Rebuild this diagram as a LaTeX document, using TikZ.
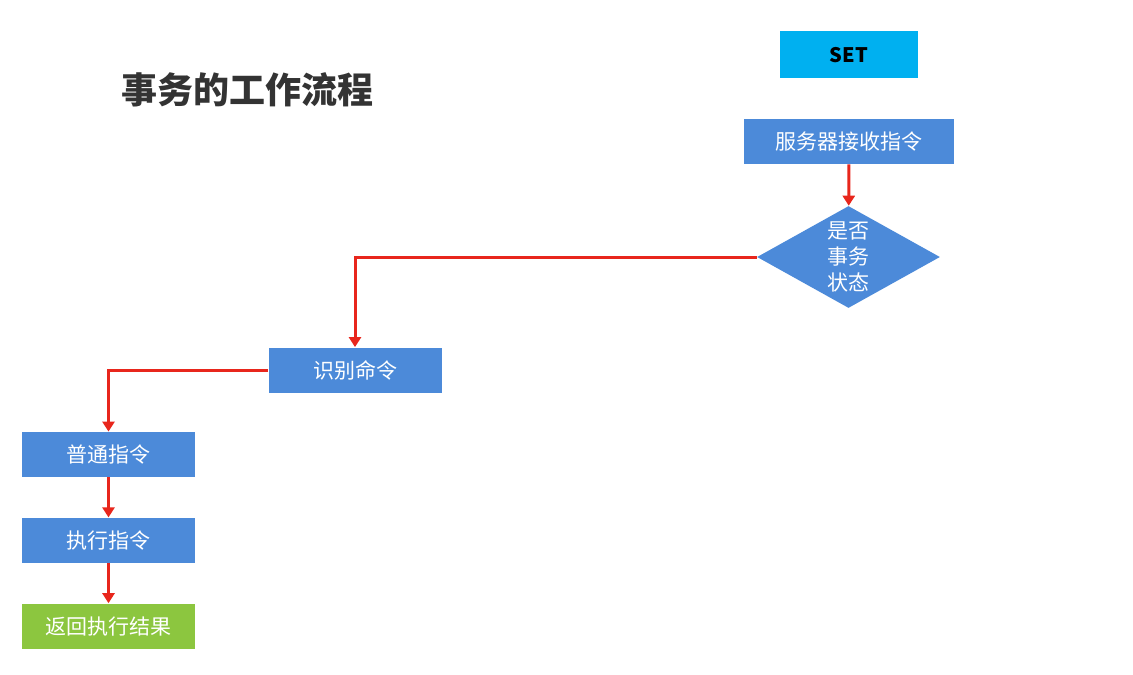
\documentclass[tikz,border=0pt]{standalone}
\usepackage{fontspec}
\setmainfont{Noto Sans CJK SC}
\usetikzlibrary{arrows.meta,positioning,shapes.geometric}
\definecolor{boxblue}{HTML}{4C8AD9}
\definecolor{setcyan}{HTML}{00B0F0}
\definecolor{okgreen}{HTML}{8CC63F}
\definecolor{linered}{HTML}{E8261C}
\definecolor{titlegray}{HTML}{333333}

\begin{document}
\begin{tikzpicture}[
  x=0.5pt, y=-0.5pt,
  node distance=20pt and 20pt,
  box/.style={fill=boxblue, text=white, align=center, minimum height=22.5pt, minimum width=86.5pt, inner sep=0pt, font=\fontsize{10.5}{12}\selectfont},
  arr/.style={-{Triangle[length=5pt,width=6pt]}, draw=linered, line width=1.5pt}
]
\useasboundingbox (0,0) rectangle (1133,674);
\node[font=\fontsize{18}{20}\selectfont\bfseries, text=titlegray] (title) at (247,90) {事务的工作流程};
\node[box, fill=setcyan, text=black, font=\fontsize{10}{12}\selectfont\bfseries, minimum width=69pt, minimum height=23.5pt] (set) at (849,55) {SET};
\node[box, minimum width=105pt] (recv) at (849,141.5) {服务器接收指令};
\node[diamond, fill=boxblue, text=white, align=center, minimum width=91.5pt, minimum height=51pt, inner sep=0pt, aspect=1.8, font=\fontsize{10.5}{13}\selectfont] (isTx) at (848.5,257) {是否\\事务\\状态};
\node[box] (cmd) at (355,370) {识别命令};
\node[box] (normal) at (108.5,454.5) {普通指令};
\node[box, below=of normal] (exec) {执行指令};
\node[box, fill=okgreen, below=of exec] (result) {返回执行结果};

\draw[arr] (recv) -- (isTx);
\draw[arr] (isTx.west) -| (cmd.north);
\draw[arr] (cmd.west) -| (normal.north);
\draw[arr] (normal) -- (exec);
\draw[arr] (exec) -- (result);
\end{tikzpicture}
\end{document}
